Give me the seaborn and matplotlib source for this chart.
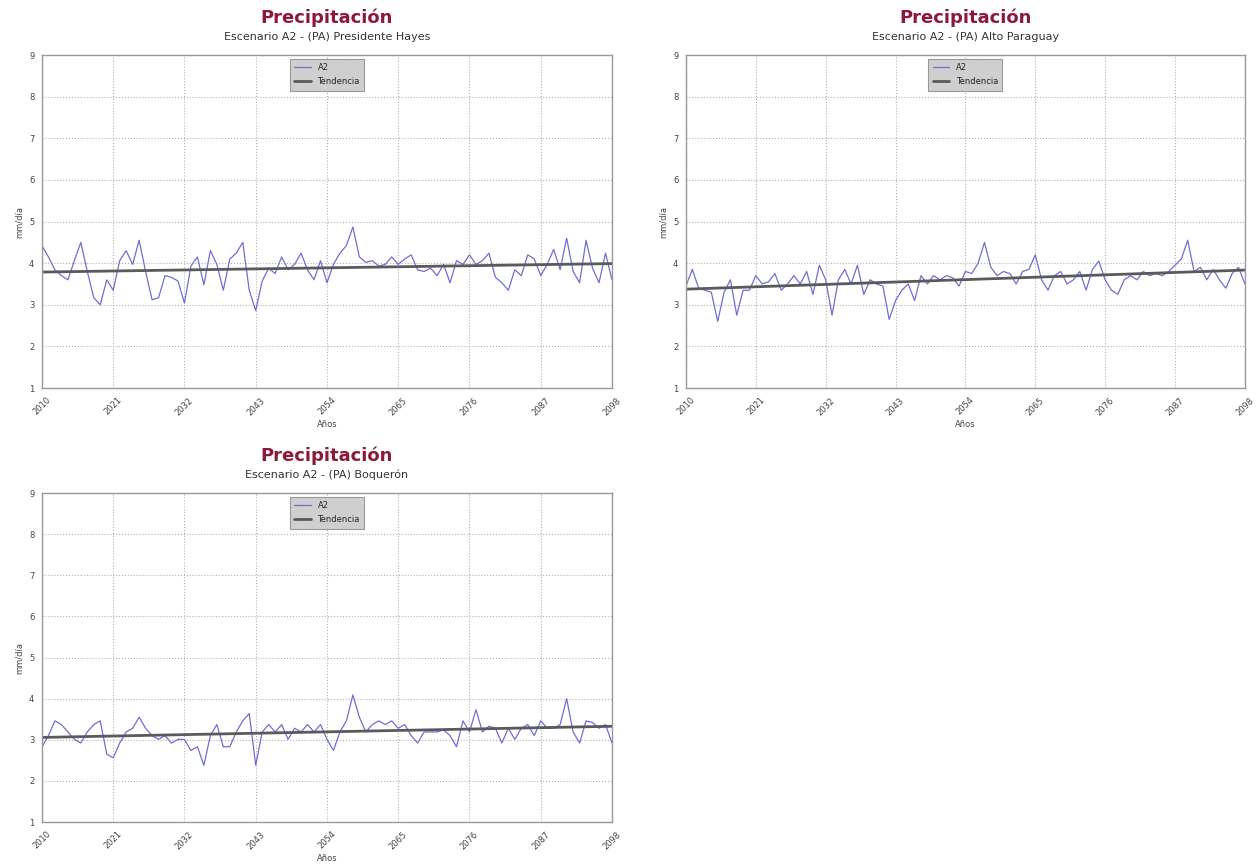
import numpy as np
import pandas as pd
import matplotlib
matplotlib.use("Agg")
import matplotlib.pyplot as plt
import seaborn as sns

# ---------------- data ----------------
years = list(range(2010, 2099))  # 89 annual values

hayes = [4.42, 4.15, 3.84, 3.70, 3.60, 4.06, 4.50, 3.80, 3.17, 3.00,
         3.60, 3.35, 4.06, 4.30, 3.97, 4.55, 3.80, 3.12, 3.17, 3.70,
         3.66, 3.57, 3.04, 3.93, 4.15, 3.48, 4.30, 3.97, 3.35, 4.10,
         4.24, 4.50, 3.35, 2.86, 3.57, 3.88, 3.75, 4.15, 3.84, 3.97,
         4.24, 3.84, 3.60, 4.06, 3.53, 3.97, 4.24, 4.42, 4.87, 4.15,
         4.02, 4.06, 3.93, 3.97, 4.15, 3.97, 4.10, 4.20, 3.84, 3.80,
         3.88, 3.70, 3.97, 3.53, 4.06, 3.97, 4.20, 3.97, 4.06, 4.24,
         3.66, 3.53, 3.35, 3.84, 3.70, 4.20, 4.10, 3.70, 3.97, 4.33,
         3.84, 4.60, 3.80, 3.53, 4.55, 3.88, 3.53, 4.24, 3.60]

alto_paraguay = [3.45, 3.85, 3.40, 3.35, 3.30, 2.60, 3.30, 3.60, 2.75, 3.35,
                 3.35, 3.70, 3.50, 3.55, 3.75, 3.35, 3.50, 3.70, 3.50, 3.80,
                 3.25, 3.95, 3.60, 2.75, 3.60, 3.85, 3.50, 3.95, 3.25, 3.60,
                 3.50, 3.45, 2.65, 3.10, 3.35, 3.50, 3.10, 3.70, 3.50, 3.70,
                 3.60, 3.70, 3.65, 3.45, 3.80, 3.75, 4.00, 4.50, 3.90, 3.70,
                 3.80, 3.75, 3.50, 3.80, 3.85, 4.20, 3.60, 3.35, 3.70, 3.80,
                 3.50, 3.60, 3.80, 3.35, 3.85, 4.05, 3.60, 3.35, 3.25, 3.60,
                 3.70, 3.60, 3.80, 3.70, 3.75, 3.70, 3.80, 3.95, 4.10, 4.55,
                 3.80, 3.90, 3.60, 3.85, 3.60, 3.40, 3.75, 3.90, 3.50]

boqueron = [2.83, 3.10, 3.46, 3.37, 3.19, 3.01, 2.92, 3.19, 3.37, 3.46,
            2.65, 2.56, 2.92, 3.19, 3.28, 3.55, 3.28, 3.10, 3.01, 3.10,
            2.92, 3.01, 3.01, 2.74, 2.83, 2.38, 3.10, 3.37, 2.83, 2.83,
            3.19, 3.46, 3.64, 2.38, 3.19, 3.37, 3.19, 3.37, 3.01, 3.28,
            3.19, 3.37, 3.19, 3.37, 3.01, 2.74, 3.19, 3.46, 4.09, 3.55,
            3.19, 3.37, 3.46, 3.37, 3.46, 3.28, 3.37, 3.10, 2.92, 3.19,
            3.19, 3.19, 3.24, 3.10, 2.83, 3.46, 3.19, 3.73, 3.19, 3.33,
            3.28, 2.92, 3.28, 3.01, 3.28, 3.37, 3.10, 3.46, 3.28, 3.28,
            3.37, 4.00, 3.19, 2.92, 3.46, 3.42, 3.28, 3.37, 2.92]

subtitles = ["Escenario A2 - (PA) Presidente Hayes",
             "Escenario A2 - (PA) Alto Paraguay",
             "Escenario A2 - (PA) Boquerón"]
series_list = [hayes, alto_paraguay, boqueron]
main_title = "Precipitación"
y_ticks = [1, 2, 3, 4, 5, 6, 7, 8, 9]
x_ticks = [2010, 2021, 2032, 2043, 2054, 2065, 2076, 2087, 2098]

# ---------------- style ----------------
sns.set_style("whitegrid", {"grid.linestyle": ":", "grid.color": "#b0b0b0",
                            "axes.edgecolor": "#888888"})
plt.rcParams['font.family'] = ['DejaVu Sans']

fig = plt.figure(figsize=(12.6, 8.65), dpi=100)
positions = [
    [0.0333, 0.5514, 0.4524, 0.3850],
    [0.5444, 0.5514, 0.4436, 0.3850],
    [0.0333, 0.0497, 0.4524, 0.3803],
]

series_color = "#6e6ed4"
trend_color = "#5a5a5a"

for pos, vals, sub in zip(positions, series_list, subtitles):
    ax = fig.add_axes(pos)
    df = pd.DataFrame({"Año": years, "valor": vals})
    coef = np.polyfit(df["Año"], df["valor"], 1)
    df["tend"] = np.polyval(coef, df["Año"])
    sns.lineplot(data=df, x="Año", y="valor", ax=ax, color=series_color,
                 linewidth=0.9, label="A2")
    sns.lineplot(data=df, x="Año", y="tend", ax=ax, color=trend_color,
                 linewidth=2.0, label="Tendencia")
    ax.set_xlim(years[0], years[-1])
    ax.set_ylim(y_ticks[0], y_ticks[-1])
    ax.set_yticks(y_ticks)
    ax.set_xticks(x_ticks)
    ax.set_xticklabels([str(t) for t in x_ticks], rotation=45, fontsize=6,
                       color="#444444")
    ax.tick_params(axis="y", labelsize=6, labelcolor="#444444", pad=2)
    ax.tick_params(axis="x", pad=2)
    ax.set_ylabel("mm/día", fontsize=6, color="#444444", labelpad=4)
    ax.set_xlabel("Años", fontsize=6, color="#444444", labelpad=2)
    for s in ax.spines.values():
        s.set_color("#999999")
        s.set_linewidth(1.0)
    ax.set_title(sub, fontsize=8, color="#333333", pad=11)
    ax.annotate(main_title, xy=(0.5, 1.0), xycoords="axes fraction",
                xytext=(0, 37), textcoords="offset pixels", ha="center",
                va="center", fontsize=13, fontweight="bold", color="#8b1a3a")
    leg = ax.legend(loc="upper center", fontsize=6, frameon=True,
                    facecolor="#cfcfcf", edgecolor="#999999", framealpha=1,
                    handlelength=2.0, borderpad=0.5, labelspacing=0.6,
                    fancybox=False)
    leg.get_frame().set_linewidth(0.8)

fig.savefig("out.png", dpi=100)
